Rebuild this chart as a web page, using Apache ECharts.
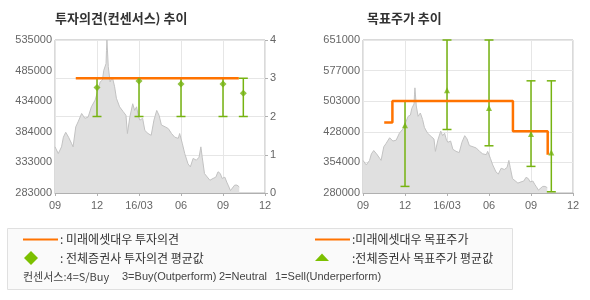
<!DOCTYPE html>
<html><head><meta charset="utf-8">
<script src="https://cdn.jsdelivr.net/npm/echarts@6/dist/echarts.min.js"></script>
<style>html,body{margin:0;padding:0;background:#fff}#c{width:590px;height:300px}</style>
</head><body><div id="c"></div>
<script>
// ---------- data ----------
const xTickLabels = ['09','12','16/03','06','09','12'];
const opinionTickLabels = ['0','1','2','3','4'];
const priceTickLabelsL = ['283000','333000','384000','434000','485000','535000'];
const priceTickLabelsR = ['280000','354000','428000','503000','577000','651000'];

const priceDates = ['2015-09-01','2015-09-08','2015-09-15','2015-09-19','2015-09-24','2015-09-30','2015-10-07','2015-10-10','2015-10-16','2015-10-21','2015-10-29','2015-11-05','2015-11-12','2015-11-19','2015-11-27','2015-12-01','2015-12-08','2015-12-13','2015-12-16','2015-12-21','2015-12-22','2015-12-23','2015-12-26','2015-12-30','2016-01-04','2016-01-09','2016-01-13','2016-01-20','2016-01-28','2016-02-03','2016-02-06','2016-02-11','2016-02-17','2016-02-21','2016-02-25','2016-02-29','2016-03-03','2016-03-09','2016-03-14','2016-03-21','2016-03-28','2016-04-03','2016-04-09','2016-04-14','2016-04-19','2016-04-27','2016-05-04','2016-05-11','2016-05-18','2016-05-26','2016-05-29','2016-06-04','2016-06-09','2016-06-16','2016-06-21','2016-06-27','2016-07-04','2016-07-10','2016-07-14','2016-07-17','2016-07-22','2016-07-26','2016-08-03','2016-08-10','2016-08-16','2016-08-21','2016-08-26','2016-08-30','2016-09-05','2016-09-09','2016-09-12','2016-09-17','2016-09-21','2016-09-26','2016-10-01','2016-10-06'];
const priceValues = [359000,348000,359000,375000,383000,375000,364000,359000,392000,400000,414000,406000,408000,425000,436000,447000,466000,469000,485000,496000,518000,535000,491000,466000,474000,458000,439000,425000,417000,411000,381000,408000,430000,419000,425000,408000,403000,406000,386000,381000,378000,403000,419000,411000,395000,392000,389000,381000,375000,373000,381000,364000,348000,331000,326000,340000,337000,342000,359000,342000,315000,312000,304000,307000,309000,318000,315000,307000,309000,301000,296000,287000,287000,296000,296000,293000];

const opinionDates = ['2015-10-16','2016-10-05'];
const opinionValues = [3,3];

const avgDates = ['2015-12-01','2016-03-01','2016-06-01','2016-09-01','2016-10-15'];
const avgOpinionMin = [2,2,2,2,2];
const avgOpinionMean = [2.76,2.93,2.85,2.85,2.61];
const avgOpinionMax = [3,3,3,3,3];

const targetDates = ['2015-10-17','2015-11-04','2016-07-23','2016-10-07'];
const targetValues = [451000,503000,430000,373000];

const avgTargetMin = [296000,434000,394500,344500,283000];
const avgTargetMean = [444000,529000,486000,423000,378000];
const avgTargetMax = [503000,651000,651000,552000,552000];

// ---------- helpers ----------
function toM(d){
  const [y,m,day] = d.split('-').map(Number);
  const dim = new Date(y, m, 0).getDate();
  return (y-2015)*12 + (m-9) + (day-1)/dim;
}
const ORANGE = '#ff7300', GREEN = '#76b310', GRAY = '#666';
const FONT = '"Liberation Sans", Arial, sans-serif';
const KFONT = '"Noto Sans CJK KR", sans-serif';

const priceData = priceDates.map((d,i)=>[toM(d), priceValues[i]]);
const opinionData = opinionDates.map((d,i)=>[toM(d), opinionValues[i]]);
const targetData = targetDates.map((d,i)=>[toM(d), targetValues[i]]);
const opErr = avgDates.map((d,i)=>[toM(d), avgOpinionMin[i], avgOpinionMax[i]]);
const opMean = avgDates.map((d,i)=>[toM(d), avgOpinionMean[i]]);
const tgErr = avgDates.map((d,i)=>[toM(d), avgTargetMin[i], avgTargetMax[i]]);
const tgMean = avgDates.map((d,i)=>[toM(d), avgTargetMean[i]]);

function errRender(params, api){
  const x = api.value(0), lo = api.value(1), hi = api.value(2);
  const p1 = api.coord([x, lo]), p2 = api.coord([x, hi]);
  const w = 4.5;
  const style = {stroke: GREEN, lineWidth: 1.5, fill: null};
  return {type:'group', children:[
    {type:'line', shape:{x1:p1[0],y1:p1[1],x2:p2[0],y2:p2[1]}, style},
    {type:'line', shape:{x1:p1[0]-w,y1:p1[1],x2:p1[0]+w,y2:p1[1]}, style},
    {type:'line', shape:{x1:p2[0]-w,y1:p2[1],x2:p2[0]+w,y2:p2[1]}, style}
  ]};
}
function linSteps(min,max,n){ const a=[]; for(let i=0;i<=n;i++) a.push(min+(max-min)*i/n); return a; }

const xAxisBase = (gi)=>({
  type:'value', gridIndex:gi, min:0, max:15, interval:3,
  axisLine:{show:true, lineStyle:{color:'#b0b0b0'}},
  axisTick:{show:true, length:3, lineStyle:{color:'#b0b0b0'}},
  axisLabel:{color:GRAY, fontFamily:FONT, fontSize:11, margin:7,
    formatter:(v)=>xTickLabels[Math.round(v/3)]},
  splitLine:{show:true, lineStyle:{color:'#e6e6e6'}}
});
const areaSeries = (xi, yi)=>({
  type:'line', xAxisIndex:xi, yAxisIndex:yi, data:priceData, symbol:'none',
  lineStyle:{color:'#c2c2c2', width:1}, areaStyle:{color:'#e0e0e0', opacity:1},
  silent:true, z:1
});

const chart = echarts.init(document.getElementById('c'));
chart.setOption({
  animation:false,
  grid:[
    {left:55, top:40, width:210, height:153, show:true, borderColor:'#b4b4b4', borderWidth:1, backgroundColor:'transparent'},
    {left:363, top:40, width:210, height:153, show:true, borderColor:'#b4b4b4', borderWidth:1, backgroundColor:'transparent'}
  ],
  xAxis:[xAxisBase(0), xAxisBase(1)],
  yAxis:[
    {type:'value', gridIndex:0, position:'left', min:283000, max:535000,
      axisLine:{show:false}, axisTick:{show:false}, splitLine:{show:false},
      axisLabel:{color:GRAY, fontFamily:FONT, fontSize:11, margin:3,
        customValues: linSteps(283000,535000,5),
        formatter:(v)=>priceTickLabelsL[Math.round((v-283000)/(535000-283000)*5)]}},
    {type:'value', gridIndex:0, position:'right', min:0, max:4, interval:1,
      axisLine:{show:false}, axisTick:{show:true, length:3, lineStyle:{color:'#b0b0b0'}},
      splitLine:{show:true, lineStyle:{color:'#e6e6e6'}},
      axisLabel:{color:GRAY, fontFamily:FONT, fontSize:11, margin:5,
        formatter:(v)=>opinionTickLabels[v]}},
    {type:'value', gridIndex:1, position:'left', min:280000, max:651000,
      axisLine:{show:false}, axisTick:{show:false}, splitLine:{show:false},
      axisLabel:{color:GRAY, fontFamily:FONT, fontSize:11, margin:3,
        customValues: linSteps(280000,651000,5),
        formatter:(v)=>priceTickLabelsR[Math.round((v-280000)/(651000-280000)*5)]}},
    {type:'value', gridIndex:1, position:'right', min:0, max:5, interval:1,
      axisLine:{show:false}, axisTick:{show:false}, axisLabel:{show:false},
      splitLine:{show:true, lineStyle:{color:'#e6e6e6'}}}
  ],
  series:[
    areaSeries(0,0),
    {type:'custom', xAxisIndex:0, yAxisIndex:1, data:opErr, renderItem:errRender, encode:{x:0,y:[1,2]}, z:3, silent:true},
    {type:'line', xAxisIndex:0, yAxisIndex:1, data:opinionData, symbol:'none',
      lineStyle:{color:ORANGE, width:2.5}, z:4},
    {type:'scatter', xAxisIndex:0, yAxisIndex:1, data:opMean, symbol:'diamond', symbolSize:7,
      itemStyle:{color:GREEN}, z:5},
    areaSeries(1,2),
    {type:'custom', xAxisIndex:1, yAxisIndex:2, data:tgErr, renderItem:errRender, encode:{x:0,y:[1,2]}, z:3, silent:true},
    {type:'line', xAxisIndex:1, yAxisIndex:2, data:targetData, step:'end', symbol:'none',
      lineStyle:{color:ORANGE, width:2.5}, z:4},
    {type:'scatter', xAxisIndex:1, yAxisIndex:2, data:tgMean, symbol:'triangle', symbolSize:6,
      itemStyle:{color:GREEN}, z:5}
  ],
  graphic:[
    {type:'text', left:55, top:12, style:{text:'투자의견(컨센서스) 추이', font:'bold 13px '+KFONT, fill:'#333'}},
    {type:'text', left:367, top:12, style:{text:'목표주가 추이', font:'bold 13px '+KFONT, fill:'#333'}},
    {type:'rect', shape:{x:7.5, y:228.5, width:505, height:61}, style:{fill:'#fafafa', stroke:'#e0e0e0', lineWidth:1}, z:-1},
    {type:'line', shape:{x1:23, y1:239.5, x2:58, y2:239.5}, style:{stroke:ORANGE, lineWidth:2}},
    {type:'text', x:60, y:239.5, style:{text:': 미래에셋대우 투자의견', font:'12px '+KFONT, fill:'#333', verticalAlign:'middle'}},
    {type:'line', shape:{x1:315, y1:239.5, x2:350, y2:239.5}, style:{stroke:ORANGE, lineWidth:2}},
    {type:'text', x:352, y:239.5, style:{text:':미래에셋대우 목표주가', font:'12px '+KFONT, fill:'#333', verticalAlign:'middle'}},
    {type:'polygon', shape:{points:[[31,251],[38,258],[31,265],[24,258]]}, style:{fill:'#7cc000'}},
    {type:'text', x:60, y:258.5, style:{text:': 전체증권사 투자의견 평균값', font:'12px '+KFONT, fill:'#333', verticalAlign:'middle'}},
    {type:'polygon', shape:{points:[[322,253.5],[329,261],[315,261]]}, style:{fill:'#7cc000'}},
    {type:'text', x:352, y:258.5, style:{text:':전체증권사 목표주가 평균값', font:'12px '+KFONT, fill:'#333', verticalAlign:'middle'}},
    {type:'text', x:23, y:277, style:{text:'컨센서스:4=S/Buy', font:'11px '+KFONT, fill:'#444', verticalAlign:'middle'}},
    {type:'text', x:122, y:277, style:{text:'3=Buy(Outperform)', font:'11px '+FONT, fill:'#444', verticalAlign:'middle'}},
    {type:'text', x:219, y:277, style:{text:'2=Neutral', font:'11px '+FONT, fill:'#444', verticalAlign:'middle'}},
    {type:'text', x:275, y:277, style:{text:'1=Sell(Underperform)', font:'11px '+FONT, fill:'#444', verticalAlign:'middle'}}
  ]
});
</script>
</body></html>
